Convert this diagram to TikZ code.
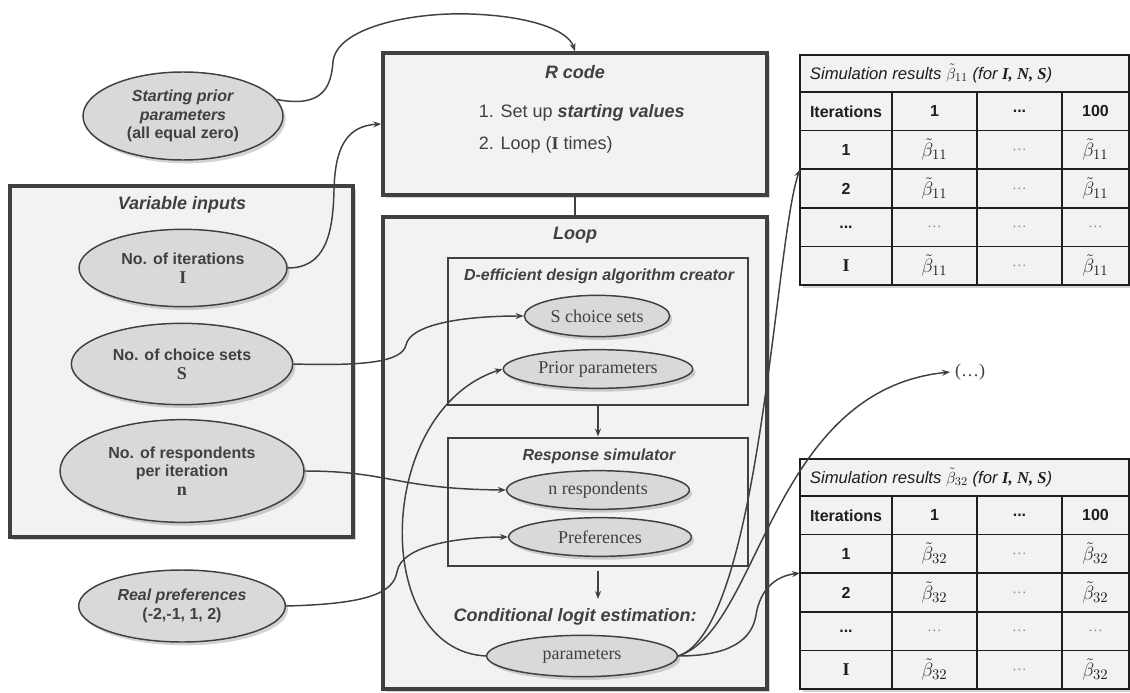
\documentclass[tikz,border=0pt]{standalone}
\usepackage{fontspec}
\setmainfont{Liberation Sans}
\newfontfamily\timesfont{Liberation Serif}
\usetikzlibrary{shapes.geometric,shadows,fit,arrows.meta}

\definecolor{dgray}{RGB}{64,64,64}
\definecolor{boxgray}{RGB}{242,242,242}
\definecolor{ellgray}{RGB}{217,217,217}
\definecolor{tabline}{RGB}{30,30,30}

\tikzset{every picture/.style={line width=0.75pt}}
\tikzset{
  shade box/.style={drop shadow={shadow xshift=2pt,shadow yshift=-2.5pt,opacity=0.35}},
  outerbox/.style={draw=dgray,fill=boxgray,line width=2.6pt,inner sep=0pt,shade box},
  innerbox/.style={draw=dgray,line width=2.2pt,inner sep=0pt},
  inellipse/.style={ellipse,draw=dgray,fill=ellgray,line width=1.1pt,inner sep=0pt,align=center,
    text=dgray,font=\fontsize{12}{14}\selectfont\bfseries,shade box},
  loopellipse/.style={ellipse,draw=dgray,fill=ellgray,line width=1.1pt,inner sep=0pt,
    text=dgray,font=\timesfont\fontsize{13.5}{15}\selectfont,shade box},
  boxtitle/.style={text=dgray,font=\fontsize{13.5}{16}\selectfont\bfseries\itshape},
  subtitle/.style={text=dgray,font=\fontsize{12}{14}\selectfont\bfseries\itshape},
  link/.style={draw=dgray,line width=1.1pt,-{Stealth[length=6pt,width=4.5pt]}},
  tabframe/.style={draw=tabline,fill=boxgray,line width=1.6pt,inner sep=0pt,shade box},
  tabrule/.style={draw=tabline,line width=1.1pt},
  tabcell/.style={text=tabline,inner sep=0pt,font=\fontsize{12}{14}\selectfont\bfseries},
  betacell/.style={text=tabline,inner sep=0pt,font=\fontsize{15}{16}\selectfont},
  dotcell/.style={text=black!45,inner sep=0pt,font=\timesfont\fontsize{11}{13}\selectfont}
}

\newcommand{\varsym}[1]{{\timesfont\bfseries\fontsize{13.5}{15}\selectfont #1}}
\newcommand{\tdots}{...}

% table of simulation results: top y, subscript, name
\newcommand{\simtable}[3]{%
  \node[tabframe, fit={(800,#1) (1129,{#1+230})}] (#3) {};
  \draw[tabrule] (800,{#1+37}) -- (1129,{#1+37});
  \foreach \r in {1,2,3,4}
    \draw[tabrule] (800,{#1+37+38.6*\r}) -- (1129,{#1+37+38.6*\r});
  \foreach \cx in {892,977,1062}
    \draw[tabrule] (\cx,{#1+37}) -- (\cx,{#1+230});
  % Text Node
  \node[anchor=west,text=tabline,font=\fontsize{12.5}{14}\selectfont\itshape] (#3-title) at (805,{#1+18.5})
    {Simulation results $\tilde\beta_{#2}$ (for {\timesfont\bfseries\itshape I, N, S})};
  \foreach \cx/\txt [count=\c] in {846/Iterations,934.5/1,1019.5/\tdots,1095.5/100}
    \node[tabcell] (#3-h\c) at (\cx,{#1+56.3}) {\txt};
  \foreach \k/\lab in {1/1,2/2,4/\varsym{I}} {
    \node[tabcell] (#3-r\k-c0) at (846,{#1+56.3+38.6*\k}) {\lab};
    \node[betacell] (#3-r\k-c1) at (934.5,{#1+56.3+38.6*\k}) {$\tilde\beta_{#2}$};
    \node[dotcell] (#3-r\k-c2) at (1019.5,{#1+56.3+38.6*\k}) {\ldots};
    \node[betacell] (#3-r\k-c3) at (1095.5,{#1+56.3+38.6*\k}) {$\tilde\beta_{#2}$};
  }
  \node[tabcell] (#3-r3-c0) at (846,{#1+56.3+38.6*3}) {\tdots};
  \foreach \cx [count=\c] in {934.5,1019.5,1095.5}
    \node[dotcell] (#3-r3-c\c) at (\cx,{#1+56.3+38.6*3}) {\ldots};
  \coordinate (#3-in) at (800,{#1+37+77.2});
}

\begin{document}
\begin{tikzpicture}[x=0.75pt,y=0.75pt,yscale=-1,xscale=1]
\useasboundingbox (0,0) rectangle (1130,692);

%Shape: Rectangle
\node[outerbox, fit={(10,186) (353,537)}] (varin) {};
\node[outerbox, fit={(383,53) (767,195)}] (rcode) {};
\node[outerbox, fit={(383,217) (767,689)}] (loop) {};
\node[innerbox, fit={(448,258) (748,405)}] (deff) {};
\node[innerbox, fit={(448,438) (748,566)}] (rsim) {};

% Text Node
\node[boxtitle] (varin-t) at (182,205) {Variable inputs};
\node[boxtitle] (rcode-t) at (575,72) {R code};
\node[boxtitle] (loop-t) at (575,235) {Loop};
\node[subtitle] (deff-t) at (599,276) {D-efficient design algorithm creator};
\node[subtitle] (rsim-t) at (599,456) {Response simulator};
\node[boxtitle] (cle-t) at (575,617) {Conditional logit estimation:};
\node[anchor=west,text=dgray,font=\fontsize{13.5}{16}\selectfont] (rc-line1) at (474,113)
  {1. Set up \textbf{\textit{starting values}}};
\node[anchor=west,text=dgray,font=\fontsize{13.5}{16}\selectfont] (rc-line2) at (474,145)
  {2. Loop (\varsym{I} times)};

%Shape: Ellipse
\node[inellipse, minimum width=150pt, minimum height=66pt] (sp) at (183,116)
  {\textit{Starting prior}\\\textit{parameters}\\(all equal zero)};
\node[inellipse, minimum width=156pt, minimum height=58pt] (iter) at (183,268)
  {No. of iterations\\\varsym{I}};
\node[inellipse, minimum width=166pt, minimum height=61pt] (cs) at (182,364)
  {No. of choice sets\\\varsym{S}};
\node[inellipse, minimum width=183pt, minimum height=77pt] (resp) at (182,471)
  {No. of respondents\\per iteration\\\varsym{n}};
\node[inellipse, minimum width=155pt, minimum height=54pt] (rp) at (182,606)
  {\textit{Real preferences}\\(-2,-1, 1, 2)};

\node[loopellipse, minimum width=109pt, minimum height=31pt] (scs) at (597,316) {S choice sets};
\node[loopellipse, minimum width=142pt, minimum height=29pt] (prior) at (598,369) {Prior parameters};
\node[loopellipse, minimum width=137pt, minimum height=29pt] (nresp) at (598,490) {n respondents};
\node[loopellipse, minimum width=137pt, minimum height=29pt] (pref) at (600,537) {Preferences};
\node[loopellipse, minimum width=143pt, minimum height=31pt] (param) at (582,656) {parameters};

% Tables
\simtable{55}{11}{t1}
\simtable{459}{32}{t2}

% Text Node
\node[text=dgray,font=\timesfont\fontsize{13.5}{15}\selectfont] (more) at (970,372) {(\ldots)};

% Connectors
\coordinate (cle-in) at (598,599);
\draw[draw=dgray,line width=1.5pt] (rcode.south) -- (loop.north);
\draw[link] (deff.south) -- (rsim.north);
\draw[link] (rsim.south) ++(0,4) -- (cle-in);

\draw[link] (sp.10) .. controls (322,108) and (331,88) .. (333,62)
  .. controls (336,28) and (410,12) .. (470,14) .. controls (530,16) and (568,30) .. (rcode.north);
\draw[link] (iter.east) .. controls (325,268) and (333,235) .. (334,190)
  .. controls (335,150) and (345,126) .. (rcode.west);
\draw[link] (cs.east) .. controls (365,366) and (402,362) .. (406,345)
  .. controls (410,325) and (460,316) .. (scs.west);
\draw[link] (resp.east) .. controls (390,471) and (395,489) .. (nresp.west);
\draw[link] (rp.east) .. controls (365,604) and (393,594) .. (397,572)
  .. controls (401,545) and (460,537) .. (pref.west);
\draw[link] (param.west) .. controls (370,650) and (375,410) .. (prior.west);

\draw[link] (param.east) .. controls (760,630) and (775,240) .. (t1-in);
\draw[link] (param.east) .. controls (760,630) and (770,390) .. (more.west);
\draw[link] (param.east) .. controls (730,656) and (752,640) .. (756,615)
  .. controls (760,590) and (775,576) .. (t2-in);

\end{tikzpicture}
\end{document}
